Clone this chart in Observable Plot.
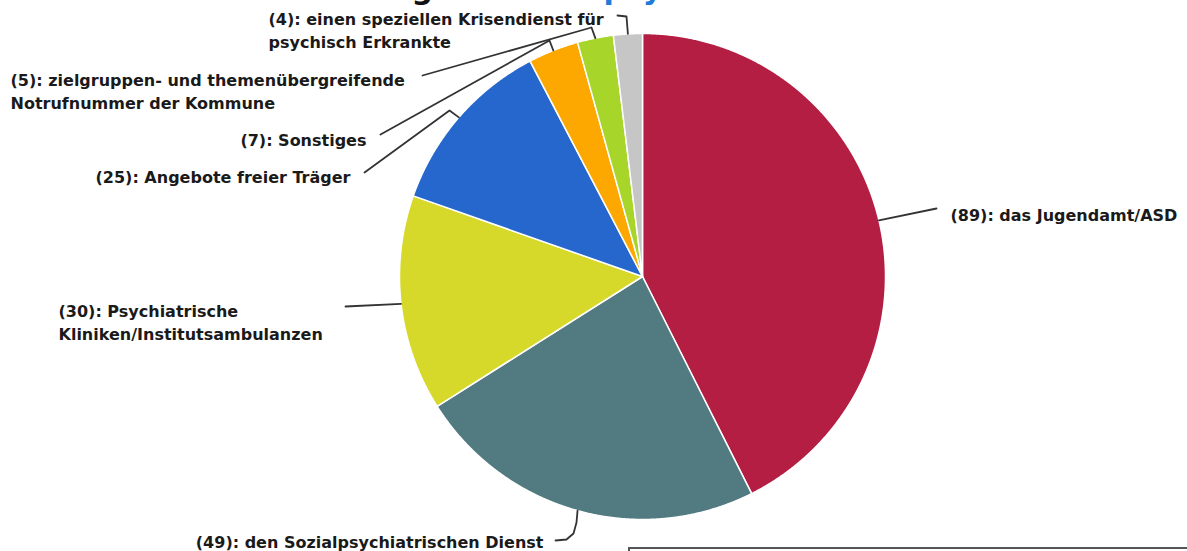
<!DOCTYPE html>
<html>
<head>
<meta charset="utf-8">
<script src="https://cdn.jsdelivr.net/npm/d3@7"></script>
<script src="https://cdn.jsdelivr.net/npm/@observablehq/plot@0.6"></script>
<style>
  body { margin: 0; background: #fff; overflow: hidden; }
  #wrap { position: relative; width: 1187px; height: 551px; overflow: hidden; }
  #box { position: absolute; left: 628px; top: 547px; width: 620px; height: 40px; border: 2px solid #555; }
</style>
</head>
<body>
<div id="wrap"><div id="chart"></div><div id="box"></div></div>
<script>
// ---- data ----
const categories = [
  "das Jugendamt/ASD",
  "den Sozialpsychiatrischen Dienst",
  "Psychiatrische\nKliniken/Institutsambulanzen",
  "Angebote freier Träger",
  "Sonstiges",
  "zielgruppen- und themenübergreifende\nNotrufnummer der Kommune",
  "einen speziellen Krisendienst für\npsychisch Erkrankte"
];
const counts = [89, 49, 30, 25, 7, 5, 4];
const sliceColors = ["#b41e43", "#527b81", "#d6d82a", "#2567cc", "#fca800", "#a7d52a", "#c6c6c6"];
const titleBlack = "Wer ist zuständig bei einer ";
const titleBlue = "psychischen Krise?";

// ---- layout ----
const W = 1187, H = 551, cx = 642, cy = 276, R = 243;
const labelLayout = [
  {x: 950, y: 213, anchor: "start", path: [[936, 208]]},
  {x: 543, y: 540, anchor: "end",   path: [[555, 540], [566, 539], [573, 533], [576, 522]]},
  {x: 58,  y: 321, anchor: "start", path: [[345, 306]]},
  {x: 350, y: 175, anchor: "end",   path: [[364, 172], [449, 110]]},
  {x: 366, y: 138, anchor: "end",   path: [[380, 134], [549, 40]]},
  {x: 10,  y: 90,  anchor: "start", path: [[422, 75], [591, 27]]},
  {x: 268, y: 29,  anchor: "start", path: [[617, 15], [626, 16]]}
];

const arcs = d3.pie().sort(null).value(d => d)(counts);
const pt = (a, r) => [cx + r * Math.sin(a), cy - r * Math.cos(a)];

const slices = arcs.map((a, i) => {
  const n = Math.max(8, Math.ceil((a.endAngle - a.startAngle) / 0.004));
  const ring = [[cx, cy]];
  for (let k = 0; k <= n; k++) ring.push(pt(a.startAngle + (a.endAngle - a.startAngle) * k / n, R));
  ring.push([cx, cy]);
  return {type: "Feature", properties: {color: sliceColors[i]}, geometry: {type: "Polygon", coordinates: [ring]}};
});

const connectors = [];
arcs.forEach((a, i) => {
  const mid = (a.startAngle + a.endAngle) / 2;
  const pts = [...labelLayout[i].path, pt(mid, R)];
  pts.forEach(([x, y]) => connectors.push({i, x, y}));
});

const labels = arcs.map((a, i) => ({
  text: `(${counts[i]}): ${categories[i]}`,
  x: labelLayout[i].x, y: labelLayout[i].y, anchor: labelLayout[i].anchor
}));

const font = {fontFamily: "DejaVu Sans", fontWeight: "bold", fontSize: 16, lineHeight: 1.4, fill: "#1a1a1a"};

const chart = Plot.plot({
  width: W, height: H, margin: 0,
  projection: d3.geoIdentity(),
  color: {type: "identity"},
  marks: [
    Plot.geo(slices, {fill: d => d.properties.color, stroke: "white", strokeWidth: 1.5}),
    Plot.line(connectors, {x: "x", y: "y", z: "i", stroke: "#333", strokeWidth: 1.8, curve: "linear", strokeLinejoin: "round"}),
    Plot.text(labels.filter(d => d.anchor === "start"), {x: "x", y: "y", text: "text", textAnchor: "start", ...font}),
    Plot.text(labels.filter(d => d.anchor === "end"), {x: "x", y: "y", text: "text", textAnchor: "end", ...font}),
    Plot.text([{t: titleBlack, x: 603, y: -2}], {x: "x", y: "y", text: "t", textAnchor: "end", lineAnchor: "bottom", fontFamily: "DejaVu Sans", fontWeight: "bold", fontSize: 30, fill: "#111"}),
    Plot.text([{t: titleBlue, x: 603, y: -2}], {x: "x", y: "y", text: "t", textAnchor: "start", lineAnchor: "bottom", fontFamily: "DejaVu Sans", fontWeight: "bold", fontSize: 30, fill: "#1f7bd8"})
  ]
});
document.getElementById("chart").appendChild(chart);
</script>
</body>
</html>
